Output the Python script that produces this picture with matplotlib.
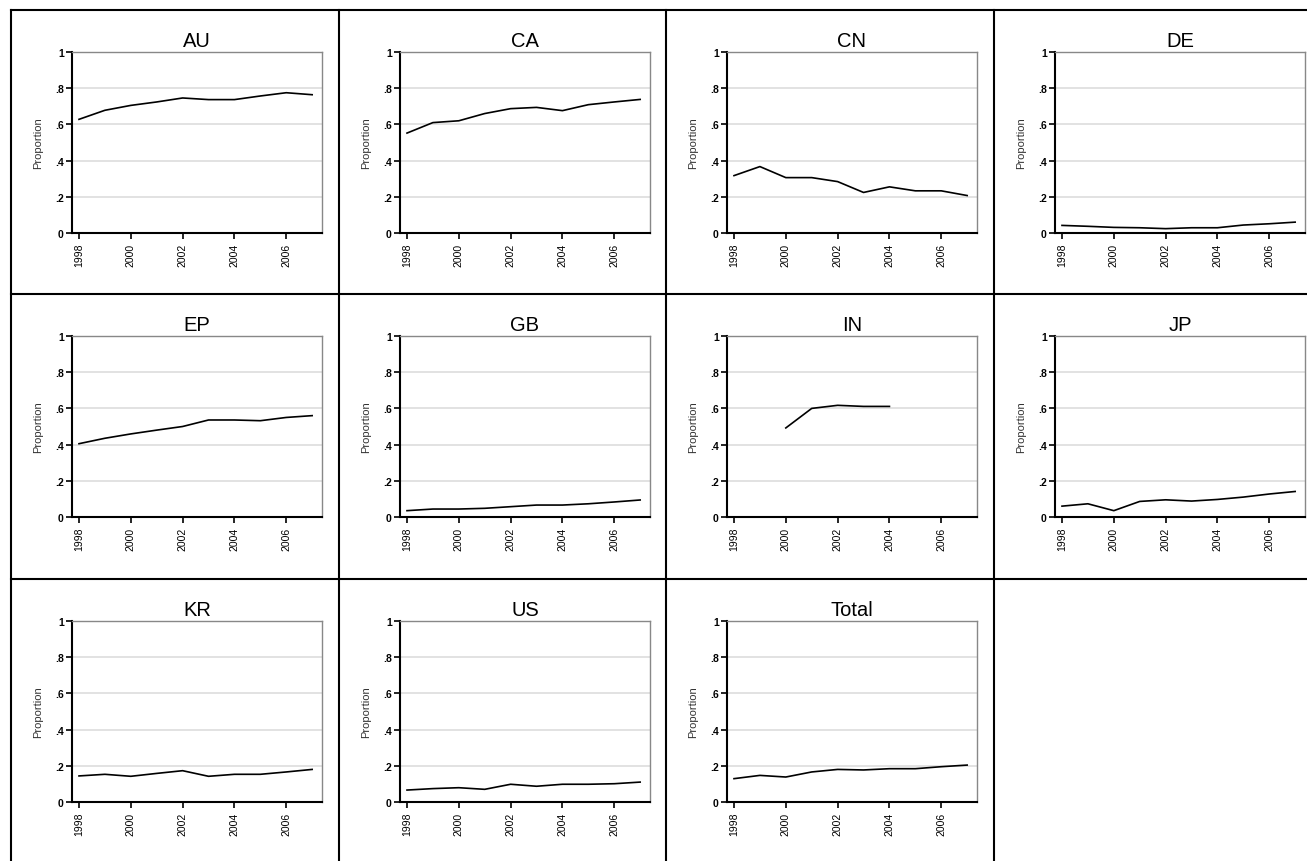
import numpy as np
import matplotlib
matplotlib.use("Agg")
import matplotlib.pyplot as plt
from matplotlib.lines import Line2D

plt.rcParams['font.family'] = ['Liberation Sans', 'DejaVu Sans']

# donnees
years = [1998, 1999, 2000, 2001, 2002, 2003, 2004, 2005, 2006, 2007]
AU = [0.628, 0.678, 0.705, 0.724, 0.746, 0.737, 0.737, 0.757, 0.775, 0.764]
CA = [0.552, 0.610, 0.620, 0.660, 0.687, 0.694, 0.676, 0.709, 0.724, 0.738]
CN = [0.317, 0.367, 0.306, 0.306, 0.284, 0.224, 0.255, 0.233, 0.233, 0.207]
DE = [0.042, 0.037, 0.031, 0.029, 0.024, 0.029, 0.029, 0.044, 0.051, 0.060]
EP = [0.405, 0.435, 0.459, 0.480, 0.500, 0.536, 0.536, 0.532, 0.550, 0.560]
GB = [0.035, 0.044, 0.044, 0.048, 0.057, 0.066, 0.066, 0.073, 0.083, 0.094]
IN = [None, None, 0.492, 0.600, 0.617, 0.611, 0.611, None, None, None]
JP = [0.060, 0.073, 0.035, 0.086, 0.095, 0.088, 0.097, 0.110, 0.127, 0.141]
KR = [0.144, 0.153, 0.142, 0.158, 0.173, 0.142, 0.153, 0.153, 0.166, 0.180]
US = [0.066, 0.074, 0.079, 0.070, 0.098, 0.087, 0.098, 0.098, 0.101, 0.110]
Total = [0.129, 0.147, 0.138, 0.166, 0.180, 0.177, 0.184, 0.184, 0.195, 0.204]

titles = ["AU", "CA", "CN", "DE", "EP", "GB", "IN", "JP", "KR", "US", "Total"]
series = [AU, CA, CN, DE, EP, GB, IN, JP, KR, US, Total]
yticks = [0, 0.2, 0.4, 0.6, 0.8, 1]
ylabels = ["0", ".2", ".4", ".6", ".8", "1"]
xticks = [1998, 2000, 2002, 2004, 2006]

W, H = 1307, 862
fig = plt.figure(figsize=(W / 100, H / 100), dpi=100)

col_x = [11, 339, 666, 994]      # bords des cases (pixels)
row_y = [11, 295, 580]

# quadrillage du tableau
for y in row_y:
    fig.add_artist(Line2D([11 / W, 1], [1 - y / H, 1 - y / H], color="black", lw=1.5, transform=fig.transFigure))
for x in col_x:
    fig.add_artist(Line2D([x / W, x / W], [1 - 11 / H, 0], color="black", lw=1.5, transform=fig.transFigure))

for i in range(len(titles)):
    r, c = divmod(i, 4)
    left = col_x[c] + 61
    top = row_y[r] + 42
    ax = fig.add_axes([left / W, 1 - (top + 181) / H, 250 / W, 181 / H])
    vals = np.array([np.nan if v is None else v for v in series[i]], dtype=float)
    ax.plot(years, vals, color="black", lw=1.2)
    ax.set_xlim(1997.73, 2007.38)
    ax.set_ylim(0, 1)
    ax.set_yticks(yticks)
    ax.set_yticklabels(ylabels, fontsize=7.5, fontweight="bold")
    ax.set_xticks(xticks)
    ax.set_xticklabels([str(t) for t in xticks], rotation=90, fontsize=7.5)
    ax.tick_params(direction="out", length=4, width=1.2, color="black", pad=2)
    ax.tick_params(axis="x", pad=3)
    for yy in [0.2, 0.4, 0.6, 0.8]:
        ax.axhline(yy, color="#dddddd", lw=1.2, zorder=0)
    ax.spines["left"].set_linewidth(1.5)
    ax.spines["bottom"].set_linewidth(1.5)
    ax.spines["top"].set_color("#888888")
    ax.spines["right"].set_color("#888888")
    ax.spines["top"].set_linewidth(1.0)
    ax.spines["right"].set_linewidth(1.0)
    ax.set_title(titles[i], fontsize=14.5, pad=4)
    ax.set_ylabel("Proportion", fontsize=8, color="#333333")
    ax.yaxis.set_label_coords(-0.115, 0.5)

fig.savefig("out.png", dpi=100)
